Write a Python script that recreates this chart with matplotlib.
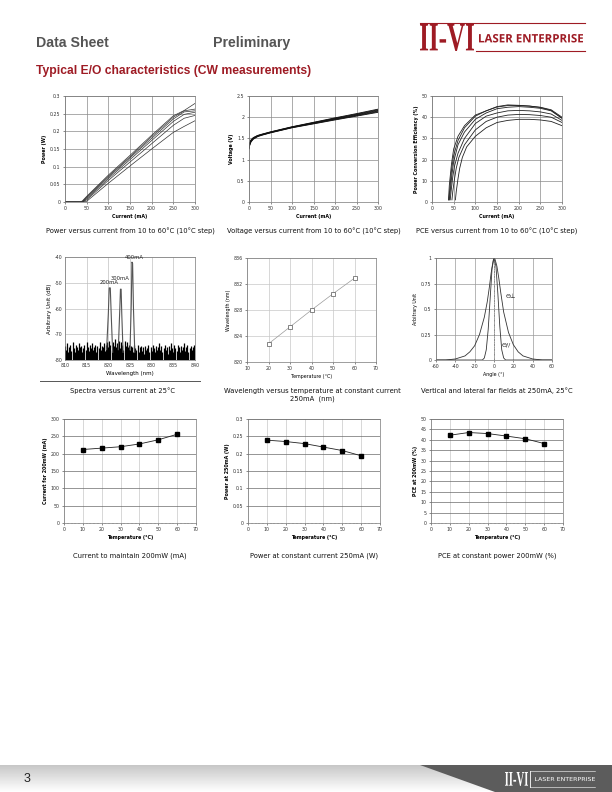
import numpy as np
import matplotlib
matplotlib.use("Agg")
import matplotlib.pyplot as plt
from matplotlib.patches import Polygon, PathPatch
from matplotlib.textpath import TextPath
from matplotlib.font_manager import FontProperties
from matplotlib.transforms import Affine2D

plt.rcParams["axes.unicode_minus"] = False

# ---------------- data ----------------
temps_curves = [10, 20, 30, 40, 50, 60]

# Power vs current
pi_current = [0, 35, 40, 50, 100, 150, 200, 250, 275, 300]
pi_power = [
    [0, 0, 0.003, 0.016, 0.076, 0.132, 0.189, 0.244, 0.259, 0.279],
    [0, 0, 0.001, 0.014, 0.073, 0.128, 0.185, 0.240, 0.258, 0.263],
    [0, 0, 0.000, 0.012, 0.070, 0.125, 0.180, 0.235, 0.255, 0.258],
    [0, 0, 0.000, 0.009, 0.066, 0.120, 0.174, 0.228, 0.248, 0.254],
    [0, 0, 0.000, 0.006, 0.061, 0.113, 0.165, 0.217, 0.237, 0.245],
    [0, 0, 0.000, 0.002, 0.053, 0.102, 0.150, 0.197, 0.214, 0.230],
]

# Voltage vs current
iv_current = [0, 1, 3, 5, 10, 20, 30, 50, 75, 100, 150, 200, 250, 300]
iv_voltage = [
    [1.30, 1.36, 1.43, 1.47, 1.52, 1.57, 1.60, 1.655, 1.715, 1.775, 1.880, 1.985, 2.085, 2.190],
    [1.29, 1.35, 1.42, 1.46, 1.51, 1.565, 1.595, 1.650, 1.710, 1.770, 1.872, 1.975, 2.072, 2.175],
    [1.28, 1.34, 1.41, 1.45, 1.505, 1.56, 1.590, 1.645, 1.705, 1.765, 1.865, 1.965, 2.060, 2.160],
    [1.27, 1.33, 1.40, 1.44, 1.50, 1.555, 1.585, 1.640, 1.700, 1.760, 1.858, 1.955, 2.048, 2.145],
    [1.26, 1.32, 1.39, 1.43, 1.49, 1.55, 1.580, 1.635, 1.695, 1.755, 1.850, 1.945, 2.036, 2.130],
    [1.25, 1.31, 1.38, 1.42, 1.48, 1.54, 1.575, 1.630, 1.690, 1.750, 1.842, 1.935, 2.025, 2.115],
]

# PCE vs current
pce_current = [
    [38, 40, 45, 50, 60, 75, 100, 125, 150, 175, 200, 225, 250, 275, 300],
    [39, 41, 45, 50, 60, 75, 100, 125, 150, 175, 200, 225, 250, 275, 300],
    [40, 42, 46, 50, 60, 75, 100, 125, 150, 175, 200, 225, 250, 275, 300],
    [42, 44, 48, 52, 60, 75, 100, 125, 150, 175, 200, 225, 250, 275, 300],
    [46, 48, 52, 56, 62, 75, 100, 125, 150, 175, 200, 225, 250, 275, 300],
    [54, 56, 60, 64, 70, 80, 100, 125, 150, 175, 200, 225, 250, 275, 300],
]
pce_values = [
    [1, 8, 18, 25, 31, 36, 41, 43, 45, 45.8, 45.6, 45.3, 44.6, 43.2, 39.5],
    [1, 6, 15, 22, 29, 35, 40.5, 43, 44.8, 45.5, 45.5, 45.2, 44.7, 43.5, 40.0],
    [1, 5, 13, 19, 27, 33, 39, 42, 44, 44.7, 45, 44.7, 44.2, 43.0, 39.5],
    [1, 5, 12, 17, 23, 30, 37, 40.5, 42, 43, 43.2, 43, 42.5, 41.5, 38.5],
    [1, 5, 11, 16, 21, 27, 34, 38, 40, 41, 41.3, 41.2, 40.8, 40.0, 37.5],
    [1, 5, 11, 16, 21, 26, 31, 35, 37.5, 38.5, 39, 39, 38.7, 38.0, 36.0],
]

# Spectra
spec_noise_env = [
    -74.5, -76, -73.5, -77, -75, -74, -76.5, -73, -75.5, -77, -74, -75, -76, -73.5, -75, -74.5, -77, -75.5, -74, -76,
    -73, -75, -76.5, -74, -75.5, -73.5, -76, -75, -74, -77, -74.5, -75.5, -73, -76, -74.5, -75, -73.5, -76.5, -74, -73,
    -75, -72.5, -74, -76, -73, -74.5, -72, -75, -73.5, -74, -72.5, -75.5, -73, -74, -76, -72.5, -74.5, -73, -75, -74,
    -76, -74.5, -75, -77, -74, -75.5, -76, -74, -77, -75, -74.5, -76.5, -75, -77.5, -74.5, -76, -75.5, -74, -77, -75,
    -76.5, -74, -75.5, -77, -74.5, -76, -75, -73.5, -76, -74.5, -77, -75.5, -74, -76, -75, -77.5, -74.5, -76, -73.5, -75.5,
    -77, -74, -75.5, -76.5, -74, -75, -77, -74.5, -76, -75, -73.5, -76.5, -75, -74, -77, -75.5, -74.5, -76, -75, -74, -76,
]
spec_peaks = {
    "200mA": ([819.6, 820.0, 820.2, 820.45, 820.7, 821.0], [-76, -62, -52, -52, -64, -77]),
    "300mA": ([822.3, 822.65, 822.8, 822.95, 823.1, 823.4], [-76, -60, -52.5, -52.5, -62, -77]),
    "400mA": ([825.0, 825.3, 825.45, 825.6, 825.8, 826.1], [-76, -58, -42, -42.5, -60, -77]),
}

# Wavelength vs temperature
wl_temp = [20, 30, 40, 50, 60]
wl_nm = [822.8, 825.4, 828.0, 830.5, 832.9]

# Far fields
ff_angle_perp = [-60, -50, -40, -30, -25, -20, -15, -10, -7, -5, -3, -1, 0, 1, 3, 5, 7, 10, 15, 20, 25, 30, 40, 50, 60]
ff_perp = [0, 0, 0.01, 0.04, 0.08, 0.14, 0.25, 0.42, 0.57, 0.70, 0.85, 0.97, 1.0, 0.99, 0.92, 0.80, 0.66, 0.47, 0.27, 0.15, 0.08, 0.04, 0.01, 0, 0]
ff_angle_par = [-60, -12, -10, -8, -6, -4, -2, 0, 2, 4, 6, 8, 10, 12, 60]
ff_par = [0, 0, 0.02, 0.10, 0.30, 0.60, 0.90, 1.0, 0.92, 0.65, 0.33, 0.10, 0.02, 0, 0]

# Temperature dependence
t_temp = [10, 20, 30, 40, 50, 60]
t_current_200mw = [212, 216, 220, 228, 240, 256]
t_power_250ma = [0.239, 0.235, 0.229, 0.219, 0.209, 0.194]
t_pce_200mw = [42.2, 43.5, 43.0, 41.8, 40.5, 38.2]

# ---------------- figure ----------------
W, H = 612, 792
fig = plt.figure(figsize=(W / 100, H / 100), dpi=100)
fig.patch.set_facecolor("white")

RED = "#9e1b24"
TICK_FS = 3.4
LAB_FS = 3.4
CAP_FS = 4.9
CAP_FONT = "DejaVu Sans"


def ax_px(x0, y0, x1, y1):
    return fig.add_axes([x0 / W, 1 - y1 / H, (x1 - x0) / W, (y1 - y0) / H])


def style(ax, xlabel, ylabel, grid_color="#8a8a8a", hgrid=None):
    ax.tick_params(labelsize=TICK_FS, length=1.2, width=0.4, pad=2, colors="#333333")
    for s in ax.spines.values():
        s.set_linewidth(0.5)
        s.set_color("#777777")
    ax.grid(True, color=grid_color, linewidth=0.5)
    if hgrid is not None:
        ax.grid(False)
        ax.yaxis.grid(True, color=hgrid, linewidth=0.5)
        ax.xaxis.grid(True, color="#c8c8c8", linewidth=0.5)
    ax.set_axisbelow(True)
    ax.set_xlabel(xlabel, fontsize=LAB_FS, fontweight="bold", labelpad=2)
    ax.set_ylabel(ylabel, fontsize=LAB_FS, fontweight="bold", labelpad=2)


def caption(x, y, txt):
    fig.text(x / W, 1 - y / H, txt, fontsize=CAP_FS, ha="center", va="center",
             family=CAP_FONT, color="#111111", linespacing=1.5)


def text_in_box(ax, s, x0, y0, x1, y1, color, family="Liberation Serif", weight="bold", zorder=3):
    tp = TextPath((0, 0), s, size=1, prop=FontProperties(family=family, weight=weight))
    bb = tp.get_extents()
    sx = (x1 - x0) / bb.width
    sy = (y1 - y0) / bb.height
    tr = Affine2D().translate(-bb.x0, -bb.y0).scale(sx, -sy).translate(x0, y1)
    ax.add_patch(PathPatch(tr.transform_path(tp), facecolor=color, edgecolor="none", zorder=zorder))


# ---- Header ----
fig.text(36 / W, 1 - 43 / H, "Data Sheet", fontsize=10.2, fontweight="bold",
         color="#555555", family="Liberation Sans", va="center")
fig.text(213 / W, 1 - 43 / H, "Preliminary", fontsize=10.2, fontweight="bold",
         color="#555555", family="Liberation Sans", va="center")
fig.text(36 / W, 1 - 71 / H, "Typical E/O characteristics (CW measurements)", fontsize=8.7,
         fontweight="bold", color=RED, family="Liberation Sans", va="center")

# Logo / decorations layer
lax = fig.add_axes([0, 0, 1, 1], zorder=-1)
lax.set_xlim(0, W)
lax.set_ylim(H, 0)
lax.axis("off")
text_in_box(lax, "II-VI", 420, 24, 474, 51, RED)
lax.plot([420, 585], [23, 23], color=RED, lw=0.8)
lax.plot([476, 585], [51, 51], color=RED, lw=0.8)
text_in_box(lax, "LASER ENTERPRISE", 479, 34, 583, 42.5, RED, family="Open Sans")

# Footer
grad = np.linspace(0.78, 1.0, 50).reshape(-1, 1) * np.ones((1, 10))
lax.imshow(grad, cmap="gray", vmin=0, vmax=1, extent=[0, W, 792, 765], aspect="auto", zorder=0)
lax.add_patch(Polygon([[420, 765], [W, 765], [W, 792], [495, 792]], closed=True,
                      facecolor="#5c5c5c", edgecolor="none", zorder=1))
lax.text(24, 779, "3", fontsize=9, color="#222222", family="Liberation Sans", va="center", zorder=2)
text_in_box(lax, "II-VI", 505, 772, 528, 786, "white")
lax.plot([530, 530], [771, 787], color="white", lw=0.6, zorder=2)
lax.plot([530, 595], [771, 771], color="white", lw=0.4, zorder=2)
lax.plot([530, 595], [787, 787], color="white", lw=0.4, zorder=2)
text_in_box(lax, "LASER ENTERPRISE", 535, 777, 595, 781, "white", family="DejaVu Sans", weight="normal")
lax.set_xlim(0, W)
lax.set_ylim(H, 0)
lax.plot([40, 200], [381, 381], color="#555555", lw=0.7)

# ---- Row 1 ----
ax1 = ax_px(65, 96, 195, 202)
for p in pi_power:
    ax1.plot(pi_current, p, color="#333333", lw=0.5)
ax1.set_xlim(0, 300)
ax1.set_ylim(0, 0.3)
ax1.set_xticks(np.arange(0, 301, 50))
ax1.set_yticks([0, 0.05, 0.1, 0.15, 0.2, 0.25, 0.3])
ax1.set_yticklabels(["0", "0.05", "0.1", "0.15", "0.2", "0.25", "0.3"])
style(ax1, "Current (mA)", "Power (W)")
caption(130, 231, "Power versus current from 10 to 60°C (10°C step)")

ax2 = ax_px(249, 96, 378, 202)
for v in iv_voltage:
    ax2.plot(iv_current, v, color="#111111", lw=0.6)
ax2.set_xlim(0, 300)
ax2.set_ylim(0, 2.5)
ax2.set_xticks(np.arange(0, 301, 50))
ax2.set_yticks([0, 0.5, 1, 1.5, 2, 2.5])
ax2.set_yticklabels(["0", "0.5", "1", "1.5", "2", "2.5"])
style(ax2, "Current (mA)", "Voltage (V)")
caption(314, 231, "Voltage versus current from 10 to 60°C (10°C step)")

ax3 = ax_px(432, 96, 562, 202)
for c, v in zip(pce_current, pce_values):
    ax3.plot(c, v, color="#222222", lw=0.6)
ax3.set_xlim(0, 300)
ax3.set_ylim(0, 50)
ax3.set_xticks(np.arange(0, 301, 50))
ax3.set_yticks(np.arange(0, 51, 10))
style(ax3, "Current (mA)", "Power Conversion Efficiency (%)")
caption(497, 231, "PCE versus current from 10 to 60°C (10°C step)")

# ---- Row 2 ----
ax4 = ax_px(65, 257, 195, 360)
wl_grid = np.linspace(810, 840, len(spec_noise_env))
ax4.vlines(wl_grid, -80, spec_noise_env, color="black", lw=0.9)
for name, (x, y) in spec_peaks.items():
    ax4.plot(x, y, color="#555555", lw=0.8)
ax4.text(820.1, -50.8, "200mA", fontsize=3.8, ha="center", va="bottom", color="#222222")
ax4.text(822.6, -49.3, "300mA", fontsize=3.8, ha="center", va="bottom", color="#222222")
ax4.text(826.0, -41.3, "400mA", fontsize=3.8, ha="center", va="bottom", color="#222222")
ax4.set_xlim(810, 840)
ax4.set_ylim(-80, -40)
ax4.set_xticks(np.arange(810, 841, 5))
ax4.set_yticks(np.arange(-80, -39, 10))
style(ax4, "Wavelength (nm)", "Arbitrary Unit (dB)", grid_color="#c0c0c0")
ax4.tick_params(length=0)
ax4.xaxis.label.set_fontweight("normal")
ax4.yaxis.label.set_fontweight("normal")
ax4.xaxis.label.set_fontsize(4)
ax4.yaxis.label.set_fontsize(4)
caption(122, 391, "Spectra versus current at 25°C")

ax5 = ax_px(247, 258, 376, 362)
ax5.plot(wl_temp, wl_nm, color="#9a9a9a", lw=0.5, marker="s", markersize=3.3,
         markerfacecolor="white", markeredgecolor="#555555", markeredgewidth=0.5)
ax5.set_xlim(10, 70)
ax5.set_ylim(820, 836)
ax5.set_xticks(np.arange(10, 71, 10))
ax5.set_yticks(np.arange(820, 837, 4))
style(ax5, "Temperature (°C)", "Wavelength (nm)", grid_color="#c8c8c8")
ax5.xaxis.label.set_fontweight("normal")
ax5.yaxis.label.set_fontweight("normal")
caption(312, 395, "Wavelength versus temperature at constant current\n250mA  (nm)")

ax6 = ax_px(436, 258, 552, 360)
ax6.plot(ff_angle_perp, ff_perp, color="#333333", lw=0.6)
ax6.plot(ff_angle_par, ff_par, color="#333333", lw=0.6)
ax6.axvline(0, color="#777777", lw=0.5, ls=(0, (3, 1.5, 1, 1.5)))
ax6.text(12, 0.62, "Θ⊥", fontsize=4.5, ha="left", va="center", color="#222222")
ax6.text(8, 0.15, "Θ//", fontsize=4.5, ha="left", va="center", color="#222222")
ax6.set_xlim(-60, 60)
ax6.set_ylim(0, 1)
ax6.set_xticks(np.arange(-60, 61, 20))
ax6.set_yticks([0, 0.25, 0.5, 0.75, 1])
ax6.set_yticklabels(["0", "0.25", "0.5", "0.75", "1"])
style(ax6, "Angle (°)", "Arbitrary Unit", grid_color="#9a9a9a")
ax6.xaxis.label.set_fontweight("normal")
ax6.yaxis.label.set_fontweight("normal")
caption(497, 391, "Vertical and lateral far fields at 250mA, 25°C")

# ---- Row 3 ----
def temp_plot(ax, y, ylim, yticks, ylabel, yfmt=None):
    ax.plot(t_temp, y, color="#222222", lw=0.6, marker="s", markersize=2.3,
            markerfacecolor="black", markeredgecolor="black")
    ax.set_xlim(0, 70)
    ax.set_ylim(*ylim)
    ax.set_xticks(np.arange(0, 71, 10))
    ax.set_xticks(np.arange(0, 71, 2), minor=True)
    ax.set_yticks(yticks)
    if yfmt is not None:
        ax.set_yticklabels(yfmt)
    style(ax, "Temperature (°C)", ylabel, hgrid="#6a6a6a")
    ax.tick_params(which="minor", length=0.8, width=0.3, colors="#555555")


ax7 = ax_px(64, 419, 196, 523)
temp_plot(ax7, t_current_200mw, (0, 300), np.arange(0, 301, 50), "Current for 200mW (mA)")
caption(130, 556, "Current to maintain 200mW (mA)")

ax8 = ax_px(248, 419, 380, 523)
temp_plot(ax8, t_power_250ma, (0, 0.3), [0, 0.05, 0.1, 0.15, 0.2, 0.25, 0.3], "Power at 250mA (W)",
          ["0", "0.05", "0.1", "0.15", "0.2", "0.25", "0.3"])
caption(314, 556, "Power at constant current 250mA (W)")

ax9 = ax_px(431, 419, 563, 523)
temp_plot(ax9, t_pce_200mw, (0, 50), np.arange(0, 51, 5), "PCE at 200mW (%)")
caption(497, 556, "PCE at constant power 200mW (%)")

fig.savefig("out.png", dpi=100)
